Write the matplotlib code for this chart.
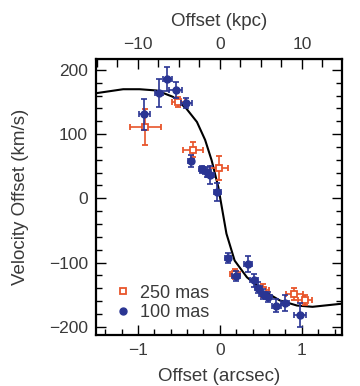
import matplotlib
matplotlib.use("Agg")
import matplotlib.pyplot as plt
from matplotlib.ticker import MultipleLocator, FixedLocator

plt.rcParams["font.family"] = ["Liberation Sans", "DejaVu Sans"]

# 100 mas data (blue, filled)
blue_x = [-0.92, -0.74, -0.64, -0.54, -0.41, -0.35, -0.22, -0.16, -0.12, -0.03,
          0.10, 0.20, 0.34, 0.42, 0.47, 0.53, 0.59, 0.69, 0.79, 0.98]
blue_y = [131, 164, 186, 169, 148, 58, 45, 41, 37, 10,
          -93, -121, -102, -128, -139, -149, -154, -167, -163, -182]
blue_xerr = [0.07, 0.05, 0.06, 0.08, 0.07, 0.04, 0.04, 0.05, 0.05, 0.04,
             0.04, 0.05, 0.05, 0.05, 0.04, 0.05, 0.05, 0.06, 0.05, 0.07]
blue_yerr = [24, 22, 18, 13, 8, 9, 6, 8, 14, 14,
             8, 8, 12, 10, 8, 8, 8, 10, 12, 19]

# 250 mas data (red, open)
red_x = [-0.91, -0.51, -0.33, -0.01, 0.18, 0.53, 0.91, 1.04]
red_y = [111, 150, 76, 47, -118, -143, -149, -158]
red_xerr = [0.19, 0.08, 0.12, 0.11, 0.06, 0.07, 0.10, 0.09]
red_yerr = [28, 8, 11, 19, 8, 10, 10, 8]

# model curve
curve_x = [-1.55, -1.5, -1.18, -0.98, -0.77, -0.57, -0.41, -0.28, -0.18, -0.10,
           -0.02, 0.08, 0.18, 0.33, 0.53, 0.73, 0.94, 1.13, 1.5, 1.55]
curve_y = [164, 164, 170, 170, 168, 158, 140, 119, 91, 59,
           18, -55, -97, -123, -144, -159, -167, -169, -164, -163]

kpc_ticks = [-10, 0, 10]

RED = "#e8552b"
BLUE = "#2a3593"
TXT = "#3a3a3a"

fig = plt.figure(figsize=(3.6, 3.86), dpi=100)
ax = fig.add_axes([0.267, 0.132, 0.683, 0.715])

ax.plot(curve_x, curve_y, color="black", lw=1.5, zorder=3)

ax.errorbar(red_x, red_y, xerr=red_xerr, yerr=red_yerr, fmt="s", ms=5,
            mfc="white", mec=RED, mew=1.3, ecolor=RED, elinewidth=1.2,
            capsize=2, capthick=1.2, label="250 mas", zorder=4)
ax.errorbar(blue_x, blue_y, xerr=blue_xerr, yerr=blue_yerr, fmt="o", ms=5,
            mfc=BLUE, mec=BLUE, ecolor=BLUE, elinewidth=1.2,
            capsize=2, capthick=1.2, label="100 mas", zorder=5)

ax.set_xlim(-1.51, 1.49)
ax.set_ylim(-213, 217)

ax.xaxis.set_major_locator(MultipleLocator(1))
ax.xaxis.set_minor_locator(MultipleLocator(0.2))
ax.yaxis.set_major_locator(MultipleLocator(100))
ax.yaxis.set_minor_locator(MultipleLocator(20))
ax.tick_params(which="both", direction="in", right=True, color="black",
               labelsize=12.5, labelcolor=TXT, width=1.0)
ax.tick_params(axis="y", which="major", pad=6)
ax.tick_params(axis="x", which="major", pad=6)
ax.tick_params(which="major", length=7)
ax.tick_params(which="minor", length=4)
for s in ax.spines.values():
    s.set_linewidth(1.6)

ax.set_xlabel("Offset (arcsec)", fontsize=13.5, color=TXT)
ax.xaxis.set_label_coords(0.5, -0.12)
ax.set_ylabel("Velocity Offset (km/s)", fontsize=13.5, color=TXT)
ax.yaxis.set_label_coords(-0.275, 0.5)

top = ax.secondary_xaxis("top", functions=(lambda v: v * 10, lambda v: v / 10))
top.xaxis.set_major_locator(FixedLocator(kpc_ticks))
top.xaxis.set_minor_locator(MultipleLocator(2.5))
top.tick_params(which="both", direction="in", labelsize=12.5,
                labelcolor=TXT, width=1.0, pad=5)
top.tick_params(which="major", length=7)
top.tick_params(which="minor", length=6)
top.set_xlabel("Offset (kpc)", fontsize=13.5, color=TXT, labelpad=8)

handles, labels = ax.get_legend_handles_labels()
ax.legend([h[0] for h in handles], labels, loc="lower left", frameon=False,
          fontsize=13, handlelength=0.7, handletextpad=0.6,
          borderaxespad=0.2, labelspacing=0.15,
          bbox_to_anchor=(0.04, 0.01), labelcolor=TXT)

fig.savefig("out.png", dpi=100)
